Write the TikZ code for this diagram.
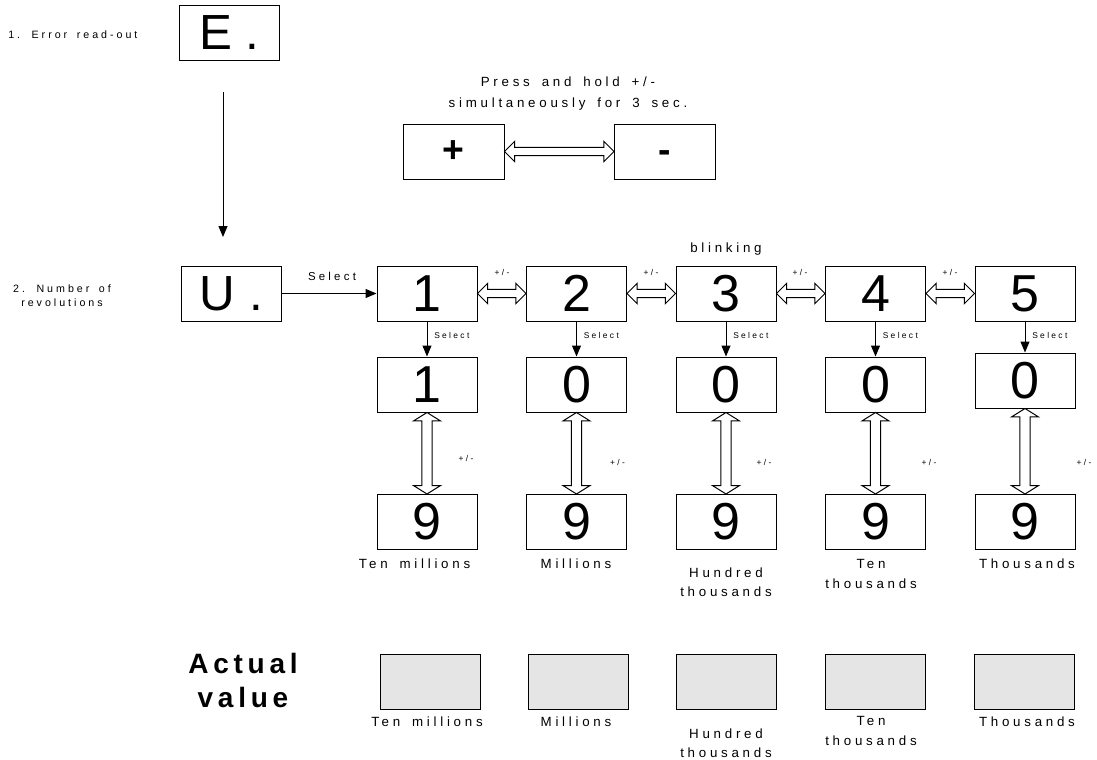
\documentclass[tikz,border=0pt]{standalone}
\usepackage{fontspec}
\setmainfont{Liberation Sans}
\newfontfamily\spaced[LetterSpace=28, WordSpace=1.6]{Liberation Sans}
\newfontfamily\spacedbold[LetterSpace=17]{Liberation Sans}
\usetikzlibrary{arrows.meta,shapes.arrows,calc}

\newcommand\digitfont{\fontsize{39}{39}\selectfont}

\tikzset{
    display/.style={draw, line width=0.75pt, minimum width=75pt, minimum height=41.25pt,
        inner sep=0pt, font=\digitfont},
    key/.style={display, minimum width=75.75pt, font=\bfseries\fontsize{28}{28}\selectfont},
    valuebox/.style={display, fill=black!10},
    hollow/.style={double arrow, draw, fill=white, line width=0.75pt, inner sep=0pt,
        inner ysep=2.7pt, double arrow head extend=4.6pt, text height=0pt, text depth=0pt,
        outer sep=0pt},
    hollowv/.style={hollow, inner ysep=3.4pt, double arrow head extend=6.4pt,
        double arrow tip angle=116},
    select/.style={line width=0.75pt, -{Triangle[length=8.25pt, width=6.75pt]}},
    unittext/.style={font=\spaced\fontsize{10}{14.5}\selectfont, align=center, inner sep=0pt},
    midtext/.style={font=\spaced\fontsize{8}{10.5}\selectfont, align=center, inner sep=0pt},
    smalltext/.style={font=\spaced\fontsize{6.3}{7}\selectfont, inner sep=0pt},
}

% hollow two-headed arrow between two anchors
\newcommand\twoway[3][hollow]{%
    \path let \p1=($(#3)-(#2)$), \n1={veclen(\x1,\y1)} in
        (#2) -- node[#1, sloped, minimum height=\n1] {} (#3);}

\begin{document}
\begin{tikzpicture}[x=0.75pt, y=-0.75pt]
        \useasboundingbox (0,0) rectangle (1097,760);

        % 1. error read-out
        \node[midtext, anchor=west] (errtext) at (8,35) {1. Error read-out};
        \node[display, font=\fontsize{37}{37}\selectfont] (errbox) at (229.5,32.5) {E .};
        \coordinate (errout) at (223,92);
        \coordinate (errin) at (223,237);
        \draw[select] (errout) -- (errin);

        % +/- keys
        \node[unittext, font=\spaced\fontsize{10}{15.75}\selectfont] (hold) at (568,93.5)
            {Press and hold +/-\\simultaneously for 3 sec.};
        \node[key] (plus) at (453.5,151.5) {+};
        \node[key] (minus) at (665,151.5) {\vphantom{+}-};
        \twoway{plus.east}{minus.west}

        % 2. number of revolutions
        \node[midtext] (revtext) at (62,296) {2. Number of\\revolutions};
        \node[display, font=\fontsize{37}{37}\selectfont] (ubox) at (231.5,293.5) {U .};
        \node[display] (d1) at (427,293.5) {1};
        \node[display] (d2) at (576.5,293.5) {2};
        \node[display] (d3) at (726,293.5) {3};
        \node[display] (d4) at (875.5,293.5) {4};
        \node[display] (d5) at (1025,293.5) {5};
        \draw[select] (ubox) -- (d1);
        \node[midtext, font=\spaced\fontsize{8.6}{10}\selectfont] (selu) at (332,276) {Select};
        \node[unittext] (blink) at (726,249) {blinking};

        \twoway{d1.east}{d2.west}
        \twoway{d2.east}{d3.west}
        \twoway{d3.east}{d4.west}
        \twoway{d4.east}{d5.west}
        \node[smalltext] (pm12) at (502,272) {+/-};
        \node[smalltext] (pm23) at (651,272) {+/-};
        \node[smalltext] (pm34) at (800,272) {+/-};
        \node[smalltext] (pm45) at (950,272) {+/-};

        % start values
        \node[display] (s1) at (427,384.5) {1};
        \node[display] (s2) at (576.5,384.5) {0};
        \node[display] (s3) at (726,384.5) {0};
        \node[display] (s4) at (875.5,384.5) {0};
        \node[display] (s5) at (1025,380.5) {0};
        \draw[select] (d1) -- (s1);
        \draw[select] (d2) -- (s2);
        \draw[select] (d3) -- (s3);
        \draw[select] (d4) -- (s4);
        \draw[select] (d5) -- (s5);
        \node[smalltext, anchor=west] (sel1) at (434,335) {Select};
        \node[smalltext, anchor=west] (sel2) at (583.5,335) {Select};
        \node[smalltext, anchor=west] (sel3) at (733,335) {Select};
        \node[smalltext, anchor=west] (sel4) at (882.5,335) {Select};
        \node[smalltext, anchor=west] (sel5) at (1032,335) {Select};

        % end values
        \node[display] (n1) at (427,522) {9};
        \node[display] (n2) at (576.5,522) {9};
        \node[display] (n3) at (726,522) {9};
        \node[display] (n4) at (875.5,522) {9};
        \node[display] (n5) at (1025,522) {9};
        \twoway[hollowv]{s1.south}{n1.north}
        \twoway[hollowv]{s2.south}{n2.north}
        \twoway[hollowv]{s3.south}{n3.north}
        \twoway[hollowv]{s4.south}{n4.north}
        \twoway[hollowv]{s5.south}{n5.north}
        \node[smalltext] (pm1) at (466,458) {+/-};
        \node[smalltext] (pm2) at (617.5,462) {+/-};
        \node[smalltext] (pm3) at (764,462) {+/-};
        \node[smalltext] (pm4) at (929,462) {+/-};
        \node[smalltext] (pm5) at (1084,462) {+/-};

        \node[unittext] (u1) at (414.5,564) {Ten millions};
        \node[unittext] (u2) at (576,564) {Millions};
        \node[unittext] (u3) at (726,582.5) {Hundred\\thousands};
        \node[unittext] (u4) at (871,574) {Ten\\thousands};
        \node[unittext] (u5) at (1027,564) {Thousands};

        % actual value
        \node[align=center, inner sep=0pt, font=\spacedbold\bfseries\fontsize{21}{25.5}\selectfont] (actual) at (243,680) {Actual\\value};
        \node[valuebox] (v1) at (430,681.5) {};
        \node[valuebox] (v2) at (578,681.5) {};
        \node[valuebox] (v3) at (726.5,681.5) {};
        \node[valuebox] (v4) at (875.5,681.5) {};
        \node[valuebox] (v5) at (1024,681.5) {};
        \node[unittext] (w1) at (427,722) {Ten millions};
        \node[unittext] (w2) at (576,722) {Millions};
        \node[unittext] (w3) at (726,743.5) {Hundred\\thousands};
        \node[unittext] (w4) at (871,731) {Ten\\thousands};
        \node[unittext] (w5) at (1027,722) {Thousands};
\end{tikzpicture}
\end{document}
